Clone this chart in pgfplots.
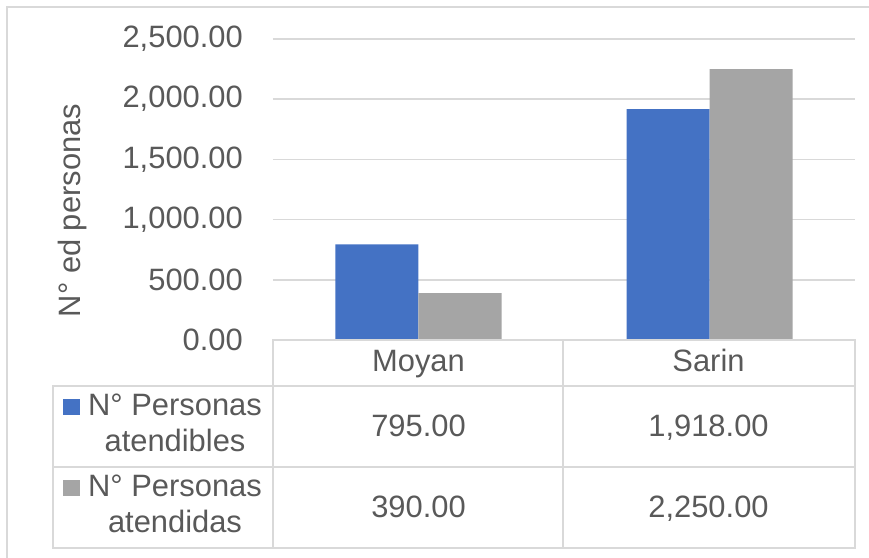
\documentclass[border=0pt]{standalone}
\usepackage{fontspec}
\setmainfont{Liberation Sans}
\usepackage{pgfplots}
\pgfplotsset{compat=1.18}
\definecolor{barblue}{HTML}{4472C4}
\definecolor{bargray}{HTML}{A5A5A5}
\definecolor{txtcol}{HTML}{595959}
\definecolor{linecol}{HTML}{D9D9D9}
\newcommand\cf{\fontsize{31}{36}\selectfont}
\begin{document}
\begin{tikzpicture}[x=1bp,y=1bp]
\useasboundingbox (-273,-218) rectangle (596,340);
% chart frame (right and bottom edges fall outside the picture)
\draw[linecol, line width=1.5bp] (-266,-230) -- (-266,333) -- (610,333);
\begin{axis}[
  at={(0,0)}, anchor=south west,
  scale only axis,
  width=582bp, height=301bp,
  xmin=-0.5, xmax=1.5,
  ymin=0, ymax=2500,
  xtick=\empty,
  ytick={0,500,1000,1500,2000,2500},
  ybar=0pt, bar width=83bp,
  axis line style={draw=none},
  major tick length=0pt,
  ymajorgrids,
  grid style={linecol, line width=1.5bp},
  /pgf/number format/assume math mode=true,
  yticklabel={\pgfmathprintnumber[fixed, fixed zerofill, precision=2, 1000 sep={,}]{\tick}},
  yticklabel style={font=\cf, text=txtcol, inner sep=0pt, xshift=-30bp},
  ylabel={N° ed personas},
  ylabel style={font=\cf, text=txtcol, at={(axis description cs:-0.345,0.43)}, anchor=center},
]
\addplot[fill=barblue, draw=none] coordinates {(0,795) (1,1918)};
\addplot[fill=bargray, draw=none] coordinates {(0,390) (1,2250)};
\end{axis}
% data table
\begin{scope}[linecol, line width=1.5bp]
\draw (0,0) rectangle (582,-46);
\draw (290,0) -- (290,-46);
\draw (-220,-46) rectangle (582,-208);
\draw (-220,-127) -- (582,-127);
\draw (0,-46) -- (0,-208);
\draw (290,-46) -- (290,-208);
\end{scope}
\begin{scope}[every node/.style={font=\cf, text=txtcol, inner sep=0pt, anchor=base}]
\node at (145.5,-32) {Moyan};
\node at (435.5,-32) {Sarin};
\node at (145.5,-97) {795.00};
\node at (435.5,-97) {1,918.00};
\node at (145.5,-178) {390.00};
\node at (435.5,-178) {2,250.00};
\node at (-98,-76) {N° Personas};
\node at (-98,-112) {atendibles};
\node at (-98,-157) {N° Personas};
\node at (-98,-193) {atendidas};
\end{scope}
\fill[barblue] (-210,-59) rectangle (-193,-75);
\fill[bargray] (-210,-140) rectangle (-193,-156);
\end{tikzpicture}
\end{document}
